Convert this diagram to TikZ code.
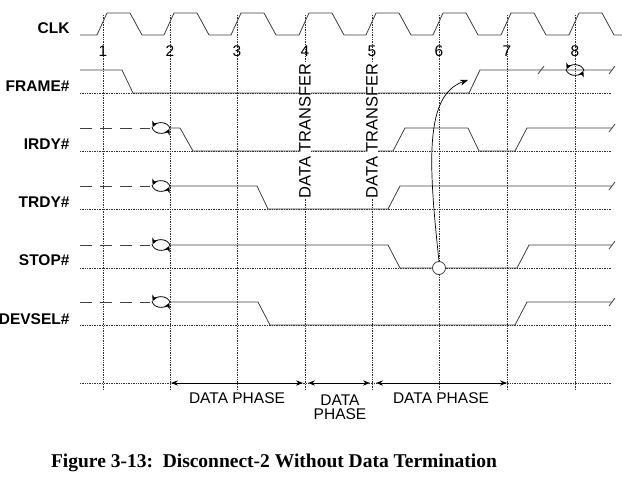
\documentclass[tikz,border=0pt]{standalone}
\usepackage{fontspec}
\setmainfont{Liberation Sans}
\newfontfamily\capfont{Liberation Serif}
\usetikzlibrary{arrows.meta}
\begin{document}
\begin{tikzpicture}[x=1pt,y=-1pt,
  sig/.style={line width=0.8pt,black!75},
  grid/.style={densely dotted,line width=0.7pt,black!80},
  lead/.style={sig,dash pattern=on 12pt off 8pt},
  lbl/.style={font=\fontsize{15.5}{16}\selectfont\bfseries,anchor=east},
  txt/.style={font=\fontsize{15.5}{16}\selectfont},
  rot/.style={font=\fontsize{16.5}{17}\selectfont,rotate=90,fill=white,inner sep=0.5pt},
  ta/.style={line width=0.8pt,-{Stealth[length=6pt,width=6pt]}},
  ph/.style={{Stealth[length=7pt]}-{Stealth[length=7pt]},line width=0.8pt}]
\useasboundingbox (0,0) rectangle (622,480);
% vertical clock lines
\foreach \i/\x in {1/103,2/170,3/237,4/305,5/372,6/439,7/507,8/575}{
  \draw[grid] (\x,15) -- (\x,390);
  \node[txt] (n\i) at (\x,51) {\i};
}
% horizontal dotted lows
\foreach \y in {93,151,209,268,325,383}{\draw[grid] (80,\y) -- (612,\y);}
% CLK
\node[lbl] (lclk) at (73,28) {CLK};
\draw[sig] (80,35) \foreach \x in {103,170,237,305,372,439,507,575}{
  -- (\x-6,35) -- (\x+4,13) -- (\x+27,13) -- (\x+39,35)} -- (622,35);
% FRAME
\node[lbl] (lframe) at (73,86) {FRAME\#};
\draw[sig] (80,70) -- (122,70) -- (133,93) -- (469,93) -- (480,70) -- (612,70);
\draw[sig] (538,74) -- (544,66);
\draw[sig] (609,74) -- (615,66);
% IRDY
\node[lbl] (lirdy) at (73,144) {IRDY\#};
\draw[sig] (170,128) -- (180,128) -- (193,151) -- (393,151) -- (405,128) -- (468,128) -- (479,151) -- (515,151) -- (527,128) -- (612,128);
\draw[sig] (609,132) -- (615,124);
% TRDY
\node[lbl] (ltrdy) at (73,202) {TRDY\#};
\draw[sig] (170,186) -- (257,186) -- (268,209) -- (388,209) -- (400,186) -- (612,186);
\draw[sig] (609,190) -- (615,182);
% STOP
\node[lbl] (lstop) at (73,260) {STOP\#};
\draw[sig] (170,245) -- (388,245) -- (400,268) -- (517,268) -- (529,245) -- (612,245);
\draw[sig] (609,249) -- (615,241);
\node[draw,sig,circle,fill=white,minimum size=13pt,inner sep=0pt] (c6) at (439,268) {};
% DEVSEL
\node[lbl] (ldevsel) at (73,319) {DEVSEL\#};
\draw[sig] (170,302) -- (258,302) -- (270,325) -- (515,325) -- (527,302) -- (612,302);
\draw[sig] (609,306) -- (615,298);
% rotated labels
\node[rot] (dt1) at (305,131) {DATA TRANSFER};
\node[rot] (dt2) at (372,131) {DATA TRANSFER};
% lead-in dashes and turnaround symbols
\foreach \y in {128,186,245,302}{
  \draw[lead] (80,\y) -- (150,\y);
  \draw[ta] (152,\y-1) arc[start angle=175,end angle=20,x radius=9,y radius=7];
  \draw[ta] (170,\y+1) arc[start angle=-5,end angle=-160,x radius=9,y radius=7];
}
\draw[ta] (566,69) arc[start angle=175,end angle=20,x radius=9,y radius=7];
\draw[ta] (584,71) arc[start angle=-5,end angle=-160,x radius=9,y radius=7];
% curved arrow
\coordinate (ft) at (468,80);
\draw[line width=0.7pt,-{Stealth[length=8pt]}] (c6.north) .. controls (428,160) and (425,95) .. (ft);
% data phases
\coordinate (p1) at (171,383); \coordinate (p2) at (303,383);
\coordinate (p3) at (308,383); \coordinate (p4) at (370,383);
\coordinate (p5) at (376,383); \coordinate (p6) at (507,383);
\draw[ph] (p1) -- (p2);
\draw[ph] (p3) -- (p4);
\draw[ph] (p5) -- (p6);
\node[txt] (dp1) at (237,398) {DATA PHASE};
\node[txt,align=center] (dp2) at (340,407) {DATA\\[-2pt]PHASE};
\node[txt] (dp3) at (441,398) {DATA PHASE};
% caption
\node[font=\capfont\fontsize{19.5}{20}\selectfont\bfseries] (cap) at (274,463) {Figure 3-13:\ \ Disconnect-2 Without Data Termination};
\end{tikzpicture}
\end{document}
